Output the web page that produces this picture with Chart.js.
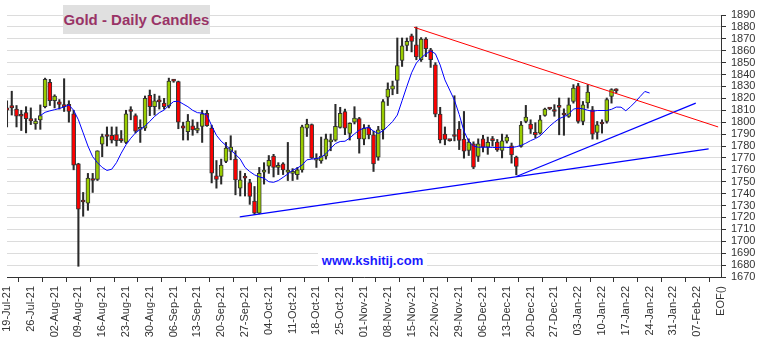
<!DOCTYPE html>
<html>
<head>
<meta charset="utf-8">
<script src="https://cdn.jsdelivr.net/npm/chart.js@4.4.1/dist/chart.umd.min.js"></script>
<style>
    html, body { margin: 0; padding: 0; background: #fff; }
    #wrap { position: relative; width: 763px; height: 344px; }
    #title {
        position: absolute; left: 63px; top: 5px; width: 147px; height: 29px;
        background: #e0e0e0; color: #993366; text-align: center;
        font: bold 15px "Liberation Sans", Arial, sans-serif; line-height: 29px;
    }
    #site {
        position: absolute; left: 318px; top: 252px; width: 109px; height: 18px;
        background: #fff; color: #1a1aff; text-align: center;
        font: bold 13px "Liberation Sans", Arial, sans-serif; line-height: 18px;
    }
</style>
</head>
<body>
<div id="wrap">
    <canvas id="myChart" width="763" height="344"></canvas>
    <div id="title">Gold - Daily Candles</div>
    <div id="site">www.kshitij.com</div>
</div>
<script>
// ===========================
// DATA SECTION
// ===========================

// weekly axis labels, one every 5 trading days (last one is the EOF marker)
const weekLabels = ['19-Jul-21', '26-Jul-21', '02-Aug-21', '09-Aug-21', '16-Aug-21', '23-Aug-21',
    '30-Aug-21', '06-Sep-21', '13-Sep-21', '20-Sep-21', '27-Sep-21', '04-Oct-21', '11-Oct-21',
    '18-Oct-21', '25-Oct-21', '01-Nov-21', '08-Nov-21', '15-Nov-21', '22-Nov-21', '29-Nov-21',
    '06-Dec-21', '13-Dec-21', '20-Dec-21', '27-Dec-21', '03-Jan-22', '10-Jan-22', '17-Jan-22',
    '24-Jan-22', '31-Jan-22', '07-Feb-22', 'EOF()'];

// daily candles, 19-Jul-21 .. 13-Jan-22
const open = [
    1812, 1814, 1811, 1805.5, 1808, 1803, 1798.5, 1802, 1813, 1833.5,
    1818, 1817, 1814, 1815, 1807, 1765, 1733.5, 1732, 1751.5, 1752,
    1781.5, 1788.5, 1789, 1789.5, 1785, 1783, 1809.5, 1805.5, 1794, 1795,
    1822.5, 1813, 1817.5, 1816, 1813.5, 1835, 1834, 1797, 1792, 1797,
    1793, 1796.5, 1807.5, 1795, 1755, 1754.4, 1767, 1775.4, 1769, 1744.6,
    1753.5, 1749.3, 1733.7, 1723.5, 1758, 1763, 1771.5, 1762, 1765, 1758,
    1757, 1756, 1760, 1795, 1798, 1768, 1767.5, 1771.5, 1783.5, 1785,
    1795.5, 1809, 1790.5, 1800, 1803, 1785.8, 1795.5, 1789.4, 1770.7, 1793.6,
    1821.1, 1827.8, 1835, 1851.8, 1864.5, 1872.6, 1865, 1852.4, 1869.8, 1860.8,
    1848.2, 1806.8, 1790, 1785, 1788.5, 1794.2, 1785.8, 1776.3, 1781.9, 1771.2,
    1786.1, 1779.1, 1785, 1783.3, 1776.3, 1784.1, 1780.2, 1770.7, 1779.6, 1800.6,
    1798.4, 1791.4, 1790.8, 1805.7, 1811.6, 1810.5, 1813, 1806.5, 1804.8, 1817.5,
    1830.6, 1800.6, 1816.1, 1810.4, 1791.4, 1799, 1800.6, 1821.7, 1826.7];
const high = [
    1818, 1826, 1814, 1810, 1813, 1812, 1803, 1814.5, 1837, 1836,
    1823, 1819, 1836.5, 1818, 1810, 1765.5, 1741, 1757, 1757, 1776,
    1790, 1796, 1796, 1796, 1793, 1810, 1813, 1807, 1802, 1822,
    1827, 1823.5, 1822, 1820, 1837, 1836, 1834.5, 1800, 1806.5, 1802,
    1800, 1810, 1810, 1797.5, 1767.8, 1769, 1783, 1788.6, 1776, 1759,
    1757, 1752, 1746, 1762, 1766, 1772, 1773, 1766, 1766, 1783,
    1761, 1762, 1797.5, 1802.5, 1798.5, 1773.5, 1787.5, 1790, 1790, 1815,
    1812.5, 1811, 1799.5, 1813, 1804, 1798, 1797.5, 1792.5, 1796.5, 1819,
    1833, 1834.5, 1870.7, 1870.7, 1870.7, 1874, 1879.9, 1871, 1871, 1862,
    1850, 1812.5, 1796, 1785.5, 1822.2, 1800.6, 1809, 1786, 1783.5, 1786,
    1789, 1787.5, 1788, 1785.5, 1790, 1789.4, 1782.5, 1771.5, 1800.6, 1814.1,
    1802, 1799.6, 1805.7, 1811.8, 1812.2, 1814.7, 1820.3, 1811.2, 1820.3, 1831.5,
    1832.6, 1817.4, 1831.5, 1813.2, 1800.6, 1802, 1820.3, 1828.1, 1828.1];
const low = [
    1796, 1806, 1796, 1793, 1791, 1798, 1794, 1794, 1812, 1814,
    1812, 1811, 1809, 1800, 1760, 1679, 1721, 1726, 1741, 1751,
    1771, 1780, 1782.5, 1780, 1783, 1782, 1802, 1791, 1783, 1793,
    1805.5, 1806, 1811, 1811, 1812, 1833.5, 1794.5, 1785, 1785, 1789,
    1791, 1783, 1796.5, 1749, 1744.6, 1748, 1766, 1768.4, 1739, 1738,
    1738, 1731, 1722.5, 1723, 1748, 1757, 1754, 1756, 1756, 1751,
    1751, 1752, 1758, 1788, 1769.5, 1762, 1765.5, 1769, 1776, 1784,
    1795, 1789.5, 1785, 1798.5, 1774, 1781, 1786, 1758.6, 1768, 1785.8,
    1814, 1823, 1824, 1846.8, 1860, 1859, 1852.4, 1851, 1855, 1846,
    1804.5, 1782.5, 1781, 1784, 1784.3, 1777, 1769.8, 1772, 1761, 1767,
    1775, 1773, 1780, 1775.5, 1770, 1782.5, 1765.6, 1755.8, 1779, 1799.5,
    1790.5, 1787, 1790, 1805, 1810.5, 1805, 1789.4, 1789, 1804, 1816,
    1799.2, 1797.8, 1811.8, 1785.8, 1785.8, 1790.8, 1799.2, 1816, 1824.5];
const close = [
    1810, 1812, 1805, 1805, 1803, 1801, 1801, 1805.5, 1836, 1818,
    1822, 1815, 1813, 1809, 1764, 1727, 1733, 1753, 1751, 1776,
    1788, 1788, 1785, 1784.5, 1784.5, 1807, 1809, 1792.5, 1795.5, 1820,
    1813, 1818, 1817, 1813, 1834.5, 1834.5, 1800, 1795, 1801, 1793.5,
    1795, 1807, 1797, 1757.2, 1752, 1764, 1778.2, 1779, 1751.6, 1751.6,
    1753, 1737.6, 1723.6, 1757, 1758.5, 1768, 1762, 1762.5, 1760, 1758.5,
    1757.5, 1760, 1796, 1798.5, 1770, 1768.5, 1771.5, 1786, 1784, 1796.5,
    1807.5, 1795, 1799, 1803.5, 1786, 1795, 1789.4, 1765, 1793.6, 1817.4,
    1827.8, 1830.6, 1847.6, 1864.2, 1867.8, 1867.8, 1854.7, 1869.8, 1861.7, 1852.4,
    1806.8, 1785.2, 1785.5, 1784.5, 1788, 1784.7, 1775.7, 1783.3, 1762.3, 1781.9,
    1779.1, 1783, 1784.5, 1776.8, 1784.4, 1787.5, 1772.6, 1762.8, 1797.6, 1804.3,
    1794.2, 1789.4, 1802, 1811, 1811.1, 1809, 1812.5, 1806, 1814.6, 1828.7,
    1800.6, 1814.6, 1825.3, 1790, 1797.8, 1798.5, 1818.9, 1827.3, 1826.3];

// blue average line (starts on day 8, runs 7 days past the last candle)
const avgLine = [
    null, null, null, null, null, null, null, 1805.5, 1808.3, 1809.5,
    1810.5, 1811.5, 1812.8, 1814.5, 1810, 1802, 1791, 1780, 1771, 1766,
    1762, 1759.5, 1760.5, 1766, 1774, 1781, 1786.5, 1791, 1794, 1796.7,
    1800.7, 1804.8, 1808, 1810.2, 1814, 1817.3, 1817.6, 1815.3, 1813, 1810,
    1808, 1807.6, 1806, 1797, 1789, 1784, 1780.5, 1776.5, 1773, 1769,
    1762, 1758.5, 1755.8, 1754, 1753, 1750, 1749.5, 1751, 1753.7, 1756.5,
    1759.6, 1761.5, 1764, 1768.4, 1769, 1769.4, 1770.6, 1773.5, 1778, 1782,
    1783.8, 1784, 1786.7, 1790.2, 1793.3, 1795, 1795.5, 1792.5, 1790.5, 1792.8,
    1796.5, 1800.5, 1806, 1818, 1830, 1841.5, 1849.7, 1854, 1857.3, 1859.8,
    1857.5, 1848, 1835.5, 1827, 1818.5, 1806.5, 1792.5, 1784, 1780, 1779,
    1779, 1779, 1778.8, 1778.7, 1779, 1778.8, 1778.7, 1779.4, 1780.5, 1782.3,
    1784.5, 1786.2, 1788.5, 1792.5, 1796.6, 1800, 1803, 1804.6, 1806.7, 1811,
    1811.7, 1811.2, 1810, 1809.2, 1809.8, 1809.8, 1809.8, 1810.8, 1812.7, 1812.6,
    1809.6, 1813, 1817, 1821.5, 1825.8, 1824.5];

// trend lines: [start day, start price, end day, end price]
const redTrend = [85.5, 1879.7, 149.4, 1796];
const longTrend = [48.9, 1720.5, 147.4, 1777.6];
const steepTrend = [107, 1754.4, 144.7, 1816];

// ===========================
// CHART SECTION
// ===========================

const upColor = '#99cc00';
const downColor = '#ff0000';

const days = open.map((_, i) => i);

function trendPoints(t) {
    return [{ x: t[0], y: t[1] }, { x: t[2], y: t[3] }];
}

const data = {
    datasets: [
        {
            // candle wicks
            type: 'bar',
            data: days.map(i => ({ x: i, y: [low[i], high[i]] })),
            backgroundColor: '#2a2a2a',
            barThickness: 1.4,
            grouped: false,
            order: 4
        },
        {
            // candle bodies
            type: 'bar',
            data: days.map(i => ({ x: i, y: [open[i], close[i]] })),
            backgroundColor: days.map(i => close[i] >= open[i] ? upColor : downColor),
            borderColor: '#333333',
            borderWidth: 1,
            borderSkipped: false,
            barThickness: 4,
            minBarLength: 2,
            grouped: false,
            order: 3
        },
        {
            type: 'line',
            data: avgLine.map((v, i) => ({ x: i, y: v })).filter(p => p.y !== null),
            borderColor: '#0000ff',
            borderWidth: 1,
            pointRadius: 0,
            tension: 0,
            order: 2
        },
        {
            type: 'line',
            data: trendPoints(redTrend),
            borderColor: '#ff0000',
            borderWidth: 1,
            pointRadius: 0,
            order: 1
        },
        {
            type: 'line',
            data: trendPoints(longTrend),
            borderColor: '#0000ff',
            borderWidth: 1.1,
            pointRadius: 0,
            order: 1
        },
        {
            type: 'line',
            data: trendPoints(steepTrend),
            borderColor: '#0000ff',
            borderWidth: 1.1,
            pointRadius: 0,
            order: 1
        }
    ]
};

Chart.defaults.font.family = '"Liberation Sans", Arial, sans-serif';

const ctx = document.getElementById('myChart');
const myChart = new Chart(ctx, {
    type: 'bar',
    data: data,
    options: {
        responsive: false,
        animation: false,
        devicePixelRatio: 1,
        layout: {
            autoPadding: false,
            padding: { left: 7, top: 15, right: 0, bottom: 0 }
        },
        plugins: {
            legend: { display: false },
            title: { display: false },
            tooltip: { enabled: false }
        },
        scales: {
            x: {
                type: 'linear',
                min: 0,
                max: 150,
                offset: false,
                afterBuildTicks: (scale) => {
                    scale.ticks = weekLabels.map((_, k) => ({ value: k * 5 }));
                },
                afterFit: (scale) => { scale.height = 67; },
                ticks: {
                    autoSkip: false,
                    maxRotation: 90,
                    minRotation: 90,
                    padding: 4,
                    color: '#333333',
                    font: { size: 11 },
                    callback: (value) => weekLabels[Math.round(value / 5)]
                },
                grid: {
                    drawOnChartArea: false,
                    tickLength: 5,
                    tickColor: '#333333'
                },
                border: { color: '#333333' }
            },
            y: {
                position: 'right',
                min: 1670,
                max: 1890,
                afterFit: (scale) => { scale.width = 42; },
                ticks: {
                    stepSize: 10,
                    autoSkip: false,
                    padding: 5,
                    color: '#333333',
                    font: { size: 11 },
                    callback: (value) => String(value)
                },
                grid: {
                    color: '#dcdcdc',
                    tickLength: 5,
                    tickColor: '#333333'
                },
                border: { color: '#333333' }
            }
        }
    }
});
</script>
</body>
</html>
